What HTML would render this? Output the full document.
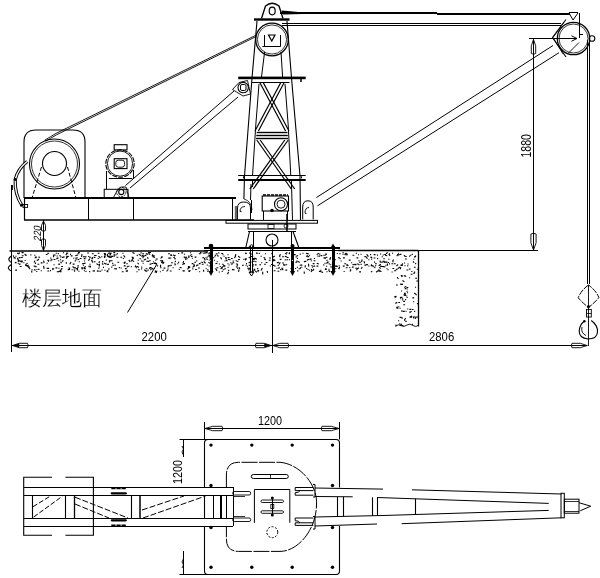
<!DOCTYPE html>
<html><head><meta charset="utf-8"><style>
html,body{margin:0;padding:0;background:#fff;}
svg{display:block;will-change:transform;}
text{font-family:"Liberation Sans",sans-serif;fill:#000;stroke:none;}
</style></head><body>
<svg width="600" height="578" viewBox="0 0 600 578" stroke="#000" fill="none" stroke-linecap="butt">
<line x1="280" y1="13" x2="437" y2="13" stroke-width="2" />
<line x1="437" y1="14" x2="570" y2="14" stroke-width="2" />
<path d="M281.5 10.5 L293 11.5 L303 12.5 L303 14 L283 14.5 Z" stroke-width="0" fill="#000" />
<line x1="282" y1="23.5" x2="561" y2="23.5" stroke-width="1" />
<line x1="282" y1="25.5" x2="561" y2="25.5" stroke-width="1" />
<path d="M261.5 18.5 L265.5 6 Q272 0.5 279 6 L283 18.5" stroke-width="1.3" fill="none" />
<ellipse cx="272.2" cy="11" rx="3" ry="3.8" fill="none" stroke-width="1.2"/>
<rect x="254" y="18.3" width="35.5" height="2.4" rx="0" stroke-width="0" fill="#000" />
<circle cx="272" cy="39.5" r="16.3" stroke-width="1.3" fill="none" />
<circle cx="272" cy="39.5" r="14.6" stroke-width="0.8" fill="none" />
<line x1="264.5" y1="35" x2="264.5" y2="46" stroke-width="1" />
<line x1="280.5" y1="35" x2="280.5" y2="46" stroke-width="1" />
<path d="M268.5 35 L275 35 L271.8 41 Z" stroke-width="1.2" fill="none" />
<path d="M257 21 L252 78 L244.5 176 L243.9 199" stroke-width="1.1" fill="none" />
<path d="M287 21 L291.5 78 L300 176 L300.5 220" stroke-width="1.1" fill="none" />
<line x1="264.6" y1="52" x2="261.5" y2="77" stroke-width="1" />
<line x1="281" y1="52" x2="282.6" y2="77" stroke-width="1" />
<line x1="262.4" y1="46.5" x2="280.8" y2="46.5" stroke-width="1" />
<path d="M259 84 L255.8 125 L252.5 176" stroke-width="1" fill="none" />
<path d="M285 84 L288.2 125 L290.8 176" stroke-width="1" fill="none" />
<line x1="251" y1="184" x2="250.5" y2="200" stroke-width="1" />
<line x1="291.5" y1="184" x2="292.5" y2="220" stroke-width="1" />
<rect x="238.2" y="76.6" width="67.5" height="2.6" rx="0" stroke-width="0" fill="#000" />
<line x1="252" y1="82.5" x2="289.5" y2="82.5" stroke-width="1" />
<line x1="301" y1="79" x2="301" y2="82" stroke-width="1.5" />
<line x1="259.8" y1="82.5" x2="285.6" y2="131" stroke-width="1.2" />
<line x1="263.2" y1="82.5" x2="289.0" y2="131" stroke-width="1.2" />
<line x1="280.8" y1="82.5" x2="255.0" y2="131" stroke-width="1.2" />
<line x1="284.2" y1="82.5" x2="258.4" y2="131" stroke-width="1.2" />
<line x1="256.7" y1="132.5" x2="287.5" y2="132.5" stroke-width="1.4" />
<line x1="256.3" y1="135.5" x2="287.8" y2="135.5" stroke-width="1.4" />
<line x1="256" y1="138.5" x2="288" y2="138.5" stroke-width="1.4" />
<line x1="256.8" y1="140" x2="291.3" y2="189" stroke-width="1.2" />
<line x1="260.2" y1="140" x2="294.7" y2="189" stroke-width="1.2" />
<line x1="284.8" y1="140" x2="249.8" y2="189" stroke-width="1.2" />
<line x1="288.2" y1="140" x2="253.2" y2="189" stroke-width="1.2" />
<line x1="238.2" y1="175.5" x2="305.7" y2="175.5" stroke-width="1" />
<line x1="238.2" y1="180" x2="305.7" y2="180" stroke-width="2" />
<line x1="243.5" y1="176.3" x2="243.5" y2="178.3" stroke-width="1" />
<line x1="301.5" y1="176.3" x2="301.5" y2="178.3" stroke-width="1" />
<line x1="252.5" y1="181" x2="252.5" y2="187" stroke-width="1" />
<line x1="291.5" y1="181" x2="291.5" y2="188" stroke-width="1" />
<path d="M237.5 219.5 L237.5 208 Q237.5 202 243.8 202 Q250.5 202 250.5 208 L250.5 219.5" stroke-width="1" fill="none" />
<path d="M244 199 Q251.5 201 252 210" stroke-width="0.8" fill="none" />
<line x1="251.5" y1="200" x2="251.5" y2="213" stroke-width="1" />
<path d="M240 211.5 Q240 206.5 245 206.5" stroke-width="0.9" fill="none" />
<line x1="240" y1="211.5" x2="241.5" y2="211.5" stroke-width="0.9" />
<path d="M302.7 219.5 L302.7 207 Q302.7 200.8 308 200.8 Q313.2 200.8 313.2 207 L313.2 219.5" stroke-width="1" fill="none" />
<path d="M305 213 Q305 207.5 309 207.5" stroke-width="0.9" fill="none" />
<line x1="305" y1="213.5" x2="306.5" y2="213.5" stroke-width="0.9" />
<line x1="232.5" y1="198" x2="232.5" y2="220" stroke-width="1" />
<line x1="236" y1="206" x2="236" y2="220" stroke-width="2.4" stroke="#666"/>
<rect x="262.2" y="196" width="26.3" height="15" rx="0" stroke-width="1.1" fill="none" />
<line x1="263.5" y1="211" x2="263.5" y2="220" stroke-width="1" />
<line x1="287.5" y1="211" x2="287.5" y2="220" stroke-width="1" />
<line x1="263" y1="195" x2="288" y2="195" stroke-width="1.5" stroke-dasharray="3 1"/>
<circle cx="281" cy="204.2" r="6.5" stroke-width="1.1" fill="none" />
<circle cx="281" cy="204.2" r="4" stroke-width="0.9" fill="none" />
<circle cx="272" cy="210.5" r="1.8" stroke-width="0" fill="#000" />
<rect x="226" y="220.4" width="91.5" height="2.8" rx="0" stroke-width="1" fill="none" />
<rect x="248" y="224" width="48" height="5" rx="0" stroke-width="1" fill="none" />
<line x1="248" y1="231.5" x2="296" y2="231.5" stroke-width="1" />
<rect x="268" y="224.5" width="6" height="4" rx="0" stroke-width="0.8" fill="none" />
<line x1="287" y1="214" x2="287" y2="231" stroke-width="1.5" />
<circle cx="286" cy="226" r="2" stroke-width="0.8" fill="none" />
<line x1="249.5" y1="231.5" x2="245.7" y2="248" stroke-width="1.1" />
<line x1="293" y1="231.5" x2="299" y2="248" stroke-width="1.1" />
<line x1="253.5" y1="231" x2="253.5" y2="248" stroke-width="1" />
<line x1="291.5" y1="231" x2="291.5" y2="248" stroke-width="1" />
<circle cx="272" cy="240" r="6" stroke-width="1.1" fill="none" />
<line x1="272.5" y1="240" x2="272.5" y2="353" stroke-width="1" />
<line x1="24" y1="198" x2="236" y2="198" stroke-width="2" />
<line x1="24" y1="220" x2="254" y2="220" stroke-width="1.6" />
<line x1="24.5" y1="198" x2="24.5" y2="220" stroke-width="1.2" />
<line x1="88.5" y1="198" x2="88.5" y2="220" stroke-width="1" />
<line x1="133.5" y1="198" x2="133.5" y2="220" stroke-width="1" />
<path d="M24 198 L24 142 Q24 130 36 130 L73 130 Q85 130 85 142 L85 198" stroke-width="1.1" fill="none" />
<circle cx="54.5" cy="164" r="25" stroke-width="1.1" fill="none" />
<circle cx="54.5" cy="164" r="23" stroke-width="0.8" fill="none" />
<circle cx="54.5" cy="163.5" r="12" stroke-width="1.1" fill="none" />
<path d="M41.5 167 L32 198" stroke-width="1" fill="none" stroke-dasharray="4 2"/>
<path d="M67.5 167 L76 198" stroke-width="1" fill="none" stroke-dasharray="4 2"/>
<path d="M27.2 161.5 Q18 168.5 15.2 179.5 Q14.5 194 22 205.5" stroke-width="3.2" fill="none" />
<path d="M27.2 161.5 Q18 168.5 15.2 179.5 Q14.5 194 22 205.5" stroke-width="1.3" fill="none" stroke="#fff"/>
<circle cx="15.2" cy="179.5" r="1.4" stroke-width="0" fill="#000" />
<circle cx="21.5" cy="205.3" r="1.5" stroke-width="0" fill="#000" />
<rect x="23" y="204.5" width="4.6" height="2.9" rx="0" stroke-width="0.9" fill="none" />
<path d="M45 140 Q50 137 56 133.4 L256 35.2" stroke-width="0.9" fill="none" />
<path d="M45.5 141.3 Q50.5 138.3 56.5 134.8 L256 36.6" stroke-width="0.9" fill="none" />
<rect x="114.2" y="144.7" width="12.8" height="5.2" rx="0" stroke-width="1.1" fill="none" />
<ellipse cx="120" cy="163.6" rx="14.2" ry="13.7" stroke-width="1.1" stroke-dasharray="5 1.2" fill="none"/>
<circle cx="120" cy="163.6" r="12.6" stroke-width="0.9" fill="none" />
<rect x="114.2" y="158.7" width="12.8" height="9.9" rx="0" stroke-width="1.1" fill="none" />
<rect x="115.8" y="160.2" width="8.8" height="7" rx="2.5" stroke-width="0.9" fill="none" />
<line x1="106.5" y1="171" x2="106.5" y2="189.3" stroke-width="1" />
<line x1="133.5" y1="170" x2="133.5" y2="178.4" stroke-width="1" />
<line x1="108.8" y1="178.5" x2="132.2" y2="178.5" stroke-width="1" />
<rect x="104.2" y="189.3" width="23.8" height="8.2" rx="0" stroke-width="1" fill="none" />
<line x1="125.5" y1="185.5" x2="234" y2="91" stroke-width="1" />
<line x1="130" y1="188" x2="238" y2="97" stroke-width="1" />
<path d="M113.5 197.5 L117.5 190 Q121 185.5 126 187 L129 197.5" stroke-width="0.9" fill="none" />
<circle cx="121.3" cy="192" r="2.6" stroke-width="1.1" fill="none" />
<circle cx="121.3" cy="192" r="4.7" stroke-width="0.9" fill="none" stroke-dasharray="1.8 1"/>
<circle cx="243.2" cy="87.6" r="5.2" stroke-width="1.1" fill="none" />
<rect x="240.5" y="84.5" width="5.5" height="6" rx="1.5" stroke-width="1" fill="none" />
<path d="M232.5 89.5 L239 82.5 L247.5 80.5 L250.5 94 L243 96 Z" stroke-width="0.9" fill="none" />
<line x1="316.5" y1="197.5" x2="553" y2="45.5" stroke-width="1" />
<line x1="317.5" y1="205.8" x2="559" y2="52.7" stroke-width="1" />
<circle cx="573.5" cy="38.5" r="16.2" stroke-width="1.3" fill="none" />
<circle cx="573.5" cy="38.5" r="14.5" stroke-width="0.8" fill="none" />
<path d="M566 19.5 L552.5 37.5 L566 57" stroke-width="1.1" fill="none" />
<path d="M564 22 L553 37.5 L563 54" stroke-width="0.8" fill="none" />
<line x1="569" y1="12.5" x2="578" y2="12.5" stroke-width="1" />
<path d="M569 13 L573 20 L578 13" stroke-width="1" fill="none" />
<line x1="579.5" y1="13" x2="579.5" y2="38" stroke-width="1" />
<circle cx="592" cy="38.5" r="2.8" stroke-width="1.1" fill="none" />
<line x1="579" y1="42.5" x2="568.5" y2="53" stroke-width="0.9" />
<line x1="579.5" y1="30" x2="579.5" y2="36" stroke-width="1" />
<line x1="587.5" y1="40" x2="587.5" y2="284" stroke-width="1" />
<line x1="589.5" y1="40" x2="589.5" y2="284" stroke-width="1" />
<path d="M588.5 285 Q581 290.5 578.2 297.7 Q582 302.5 588.5 307.4 Q595 302.5 598.9 297.5 Q596 290.5 588.5 285 Z" stroke-width="1" fill="none" stroke-dasharray="6 1.2"/>
<circle cx="588.5" cy="306.5" r="1.6" stroke-width="0" fill="#000" />
<rect x="586.5" y="309.4" width="4.8" height="7.6" rx="0" stroke-width="0.9" fill="none" />
<line x1="586.5" y1="313.5" x2="591.3" y2="313.5" stroke-width="0.8" />
<path d="M591.3 320.5 Q598 325.5 597.5 332 Q597 339 588 339 Q579 338 579.2 331 Q579.5 325 584.4 321" stroke-width="1.1" fill="none" />
<path d="M582 327 Q580.5 333 586 335.5" stroke-width="0.9" fill="none" />
<circle cx="584.4" cy="321.3" r="1.2" stroke-width="0" fill="#000" />
<line x1="588.5" y1="285" x2="588.5" y2="346" stroke-width="0.9" />
<line x1="529" y1="38.5" x2="577" y2="38.5" stroke-width="1" />
<path d="M571.5 35.8 L577 38.5 L571.5 41.2" stroke-width="1" fill="none" />
<line x1="579.5" y1="34.5" x2="583" y2="34.5" stroke-width="1" />
<line x1="533.5" y1="38" x2="533.5" y2="250" stroke-width="1" />
<path d="M533.50 39.50 L535.70 45.80 L535.70 53.50 Q533.50 55.00 531.30 53.50 L531.30 45.80 Z" stroke-width="0.9" fill="none" />
<line x1="533.5" y1="53.5" x2="533.5" y2="45.8" stroke-width="0.8" />
<path d="M533.50 250.00 L530.90 242.80 L530.90 234.00 Q533.50 232.50 536.10 234.00 L536.10 242.80 Z" stroke-width="0.9" fill="none" />
<line x1="533.5" y1="234" x2="533.5" y2="242.8" stroke-width="0.8" />
<line x1="418" y1="250.5" x2="538" y2="250.5" stroke-width="1" />
<text x="0" y="0" font-size="15" transform="translate(531,157.5) rotate(-90) scale(0.70,1)">1880</text>
<line x1="9.5" y1="251" x2="208" y2="251" stroke-width="1.5" />
<line x1="204" y1="248" x2="340" y2="248" stroke-width="2" />
<line x1="204" y1="250.5" x2="340" y2="250.5" stroke-width="1" />
<line x1="338" y1="250.5" x2="418" y2="250.5" stroke-width="1.3" />
<line x1="418.5" y1="251" x2="418.5" y2="326.5" stroke-width="1.3" />
<path d="M395.5 326.5 Q398 323.5 401 325.5 Q404 327.5 407 325 Q410 323 413 325.5 Q416 327.5 418 325.5" stroke-width="0.9" fill="none" />
<path d="M11.5 256 Q8 258.5 9 260 Q10 262 11.5 262.5 M11.5 264.5 Q7.5 267 8.5 268.5 Q9.5 270.5 11.5 271" stroke-width="1.1" fill="none" />
<line x1="211.5" y1="246" x2="211.5" y2="272" stroke-width="3" />
<path d="M208.4 271 L211 276 L213.6 271 Z" stroke-width="0" fill="#000" />
<circle cx="211" cy="260.5" r="0.7" stroke-width="0" fill="#fff" />
<line x1="292.5" y1="246" x2="292.5" y2="272" stroke-width="3" />
<path d="M289.9 271 L292.5 276 L295.1 271 Z" stroke-width="0" fill="#000" />
<circle cx="292.5" cy="260.5" r="0.7" stroke-width="0" fill="#fff" />
<line x1="333.5" y1="246" x2="333.5" y2="272" stroke-width="3" />
<path d="M330.4 271 L333 276 L335.6 271 Z" stroke-width="0" fill="#000" />
<circle cx="333" cy="260.5" r="0.7" stroke-width="0" fill="#fff" />
<circle cx="211" cy="246" r="2.3" stroke-width="0" fill="#000" />
<circle cx="292.5" cy="246" r="2" stroke-width="0" fill="#000" />
<path d="M330.5 248 L333 243.5 L335.5 248 Z" stroke-width="0" fill="#000" />
<line x1="250.5" y1="246" x2="250.5" y2="273" stroke-width="1" />
<line x1="252.5" y1="246" x2="252.5" y2="273" stroke-width="1" />
<path d="M249 247 Q251.5 242.5 254 247" stroke-width="1" fill="none" />
<path d="M249 272 L251.5 276 L254 272 Z" stroke-width="1" fill="none" />
<line x1="43.5" y1="220" x2="43.5" y2="250.8" stroke-width="1" />
<path d="M43.50 221.00 L45.50 225.28 L45.50 230.50 Q43.50 232.00 41.50 230.50 L41.50 225.28 Z" stroke-width="0.9" fill="none" />
<line x1="43.5" y1="230.5" x2="43.5" y2="225.275" stroke-width="0.8" />
<path d="M43.50 250.30 L41.50 245.49 L41.50 239.60 Q43.50 238.10 45.50 239.60 L45.50 245.49 Z" stroke-width="0.9" fill="none" />
<line x1="43.5" y1="239.60000000000002" x2="43.5" y2="245.485" stroke-width="0.8" />
<text x="0" y="0" font-size="10.5" transform="translate(40.8,241.5) rotate(-90) scale(0.88,1) skewX(-12)" fill="#444">220</text>
<line x1="11.5" y1="185" x2="11.5" y2="352" stroke-width="1" />
<line x1="12" y1="185" x2="12" y2="190" stroke-width="1.8" />
<line x1="127.5" y1="312.5" x2="157" y2="264" stroke-width="1" />
<text x="22" y="305" font-size="19.5" style="stroke:#fff;stroke-width:0.2">楼层地面</text>
<line x1="12" y1="345.5" x2="587.5" y2="345.5" stroke-width="1" />
<path d="M12.50 345.50 L19.25 343.30 L27.50 343.30 Q29.00 345.50 27.50 347.70 L19.25 347.70 Z" stroke-width="0.9" fill="none" />
<line x1="27.5" y1="345.5" x2="19.25" y2="345.5" stroke-width="0.8" />
<path d="M12.50 345.50 L19.25 343.52 L19.25 347.48 Z" stroke-width="0" fill="#000" />
<path d="M271.00 345.50 L264.25 347.70 L256.00 347.70 Q254.50 345.50 256.00 343.30 L264.25 343.30 Z" stroke-width="0.9" fill="none" />
<line x1="256" y1="345.5" x2="264.25" y2="345.5" stroke-width="0.8" />
<path d="M271.00 345.50 L264.25 347.48 L264.25 343.52 Z" stroke-width="0" fill="#000" />
<path d="M273.00 345.50 L279.75 343.30 L288.00 343.30 Q289.50 345.50 288.00 347.70 L279.75 347.70 Z" stroke-width="0.9" fill="none" />
<line x1="288" y1="345.5" x2="279.75" y2="345.5" stroke-width="0.8" />
<path d="M587.00 345.50 L580.25 347.70 L572.00 347.70 Q570.50 345.50 572.00 343.30 L580.25 343.30 Z" stroke-width="0.9" fill="none" />
<line x1="572" y1="345.5" x2="580.25" y2="345.5" stroke-width="0.8" />
<text x="0" y="0" font-size="13" transform="translate(141.5,341.3) scale(0.875,1)">2200</text>
<text x="0" y="0" font-size="13.5" transform="translate(429,341.3) scale(0.84,1)">2806</text>
<path d="M136.7 255.4h1.1M40.7 262.9h1.8M35.2 262.4l0.3 1.6M47.7 260.8h1.1M60.3 256.9h1.1M375.0 263.8h1.8M385.9 253.4h1.1M123.6 255.3l1.5 2.2M82.0 263.8h1.1M155.3 263.2l1.8 0.3M272.9 260.8h1.8M236.7 261.3h1.8M316.5 266.1h1.8M232.4 262.7h1.1M291.6 258.1h1.1M58.1 260.7h1.1M71.1 262.0l-1.3 2.3M231.9 269.6h1.8M278.6 264.1h1.1M187.3 268.9h1.1M194.1 265.5l-1.5 2.0M392.4 268.5h1.8M160.4 265.5l0.2 1.7M57.7 253.6h1.1M62.4 257.3h1.8M345.9 254.1h1.8M222.9 269.7h1.1M343.0 257.9h1.8M150.1 269.7h1.1M70.7 255.9h1.8M102.1 262.0h1.1M113.4 252.6h1.8M154.1 263.5h1.1M276.8 262.6h1.1M271.3 253.6h1.1M310.9 269.6h1.1M162.9 260.3l-0.7 1.5M38.7 256.6l0.8 1.4M13.1 255.4l0.6 1.4M347.0 264.5l1.4 1.4M152.1 254.9h1.1M392.4 261.6h1.1M45.8 254.5h1.8M114.1 268.7l2.9 0.2M214.8 255.4h1.1M23.3 262.8h1.1M342.8 266.1h1.8M153.1 255.8h1.1M216.5 267.7h1.8M98.2 268.3h1.1M338.7 268.2h1.1M295.6 256.9h1.1M148.8 253.1l1.2 1.5M277.5 271.2h1.8M370.9 271.8h1.1M152.3 256.8h1.8M88.1 256.5h1.1M356.9 268.9h1.1M262.4 268.1l-1.4 2.5M311.8 267.1h1.1M81.2 267.9h1.8M318.9 271.4h1.8M166.3 271.0h1.1M77.9 255.0l-2.6 0.8M68.8 268.6h1.1M264.1 259.3h1.1M63.0 252.8h1.1M261.2 262.8h1.1M178.7 269.5h1.1M93.6 257.4h1.8M104.9 263.9h1.8M173.1 255.1h1.1M148.1 261.4h1.1M358.4 260.7h1.1M204.6 262.9h1.1M20.1 261.1l2.7 0.0M78.8 261.7h1.1M225.6 258.9h1.1M225.2 267.8l-0.4 1.8M118.8 267.6h1.1M227.6 267.3h1.1M182.3 264.4h1.1M208.6 266.0h1.1M216.7 261.8h1.1M280.1 269.6h1.1M112.2 263.4h1.1M333.9 255.2l0.3 1.6M104.9 253.9h1.1M312.5 270.0l-1.6 1.9M67.6 269.7h1.1M96.9 271.1h1.8M199.1 271.8h1.1M74.7 260.9h1.1M142.5 256.3h1.8M288.9 252.9h1.1M181.3 252.9h1.8M251.3 262.5l-2.7 0.1M384.2 254.5h1.8M28.1 267.7h1.8M62.5 260.7h1.1M325.8 257.5l-2.3 0.6M280.6 254.2l-1.2 1.8M40.7 270.8h1.1M319.2 254.1h1.1M38.4 269.3h1.1M142.6 263.3h1.1M115.3 255.0h1.1M104.1 254.6l1.8 0.3M132.2 258.4h1.1M123.8 262.3l0.7 1.4M108.7 252.8h1.1M223.5 256.2h1.1M370.0 254.6h1.1M178.1 262.2h1.1M163.2 262.4h1.1M388.3 259.2h1.1M283.0 264.9h1.8M145.8 253.6l2.5 0.6M110.6 255.7l-2.5 1.3M269.1 258.0h1.8M124.9 261.5l0.3 1.9M380.4 271.5h1.1M106.4 271.3h1.8M149.2 252.5h1.8M194.3 262.3h1.8M205.8 252.6h1.8M47.3 260.3l2.0 0.1M101.9 263.9h1.1M299.7 265.3h1.1M348.8 260.1h1.8M389.2 255.4h1.1M258.7 253.4h1.1M353.7 264.7h1.1M323.3 255.2h1.1M205.7 268.8h1.1M328.7 263.9h1.1M273.9 266.0h1.8M24.9 255.1h1.8M53.1 268.8h1.1M252.8 264.7h1.1M199.9 252.6h1.1M298.8 262.3h1.1M264.9 253.8h1.1M109.3 254.0h1.8M291.6 256.5h1.1M385.7 262.1h1.8M196.0 265.8h1.1M248.7 265.0l1.7 0.8M296.9 258.4h1.1M17.8 253.7h1.8M269.7 266.0h1.1M124.1 262.6h1.1M191.1 254.8h1.1M89.1 271.6h1.1M19.7 261.4h1.1M382.8 261.3h1.8M93.2 270.9h1.8M235.1 255.3h1.1M376.9 255.1h1.1M207.3 269.8h1.1M101.4 270.0h1.1M22.5 252.6h1.1M185.2 258.4l0.9 1.7M334.0 252.5h1.1M333.5 254.8h1.1M285.4 270.1h1.8M155.2 260.2h1.1M238.1 259.5h1.8M118.1 253.4l-1.7 1.0M370.4 257.4h1.8M208.2 256.2h1.8M378.3 269.7h1.1M254.0 270.3h1.1M222.8 266.5l-1.5 1.6M300.5 265.1h1.8M31.7 270.6l0.2 2.0M126.7 266.9h1.1M112.4 265.3h1.8M225.9 260.2l1.6 0.9M359.1 262.2h1.8M359.2 271.9h1.8M66.3 256.3l0.8 1.4M104.3 257.5h1.1M351.9 267.1h1.8M171.1 262.7h1.8M142.2 253.7h1.8M382.7 255.0h1.1M253.5 269.3h1.8M116.5 257.3h1.8M183.3 271.1h1.1M346.4 252.9l-1.7 2.2M193.8 263.9l1.0 2.7M328.4 269.2h1.1M107.9 254.6l-0.2 2.5M372.6 266.6h1.1M305.2 261.4h1.1M28.1 267.8h1.8M364.4 265.1h1.8M61.9 257.4h1.1M279.9 254.7l-0.2 2.4M161.2 256.9h1.1M17.0 258.4h1.1M379.3 265.1h1.1M194.6 257.1h1.8M380.0 266.2h1.8M21.3 262.2h1.1M173.4 257.5h1.1M366.4 256.9l1.0 1.9M273.7 256.4h1.1M295.3 262.3h1.8M383.5 258.6h1.1M101.2 256.8h1.1M125.7 271.1h1.1M84.6 256.9h1.8M267.1 271.0l0.6 1.7M385.1 255.3l2.1 0.4M356.1 269.7h1.1M394.1 270.7h1.8M83.9 270.7h1.1M25.2 265.5h1.8M155.8 259.0l1.9 0.0M147.3 271.1l-1.8 0.2M149.2 268.5h1.1M178.2 253.5h1.1M155.4 270.4l1.2 2.6M24.6 260.5h1.1M305.9 253.3l2.8 0.6M111.2 267.1h1.1M142.5 257.8h1.1M248.7 257.6h1.1M133.9 257.9l-2.1 2.0M255.2 270.9l1.6 1.5M378.5 271.1h1.8M108.9 260.9h1.1M367.5 256.1h1.1M295.1 268.5h1.1M245.0 258.9h1.8M151.2 267.8l2.1 1.5M107.5 253.8l-0.3 2.0M387.5 269.7h1.1M114.2 254.1l0.0 2.6M183.7 257.1h1.8M250.0 265.6h1.1M336.5 265.5l-1.7 0.9M229.5 259.8h1.1M89.1 257.3h1.8M71.6 269.7h1.1M137.7 260.2h1.1M206.8 257.0h1.1M262.6 271.8l0.2 2.7M334.1 270.3l1.0 1.3M85.4 271.5h1.1M368.3 259.8h1.1M184.6 257.6h1.1M374.3 254.6h1.1M249.8 256.7h1.8M67.0 256.5h1.8M242.0 265.2h1.8M17.3 258.9h1.1M83.7 258.6h1.8M316.8 263.2l2.0 0.7M223.2 265.0l2.2 1.3M169.5 258.0h1.8M377.1 258.6h1.1M149.4 260.6h1.1M393.7 259.6l-1.2 1.4M15.2 270.1h1.8M326.4 260.4h1.1M189.1 255.7l-0.4 2.4M360.5 254.2h1.1M154.7 262.3l1.4 1.8M366.5 254.6h1.1M320.4 271.4l2.7 1.1M385.7 261.9l-2.0 0.5M358.4 264.6h1.1M74.2 267.8h1.8M167.5 269.0h1.1M82.9 256.8h1.8M210.8 260.0l1.8 1.8M355.8 253.3h1.1M302.4 253.2h1.1M58.0 264.2h1.1M252.5 258.5h1.8M235.6 260.8h1.1M183.7 261.0l-0.8 2.1M102.9 267.4h1.1M188.1 256.0h1.1M53.9 255.0h1.8M48.0 261.1h1.1M28.6 264.9l-1.8 2.0M208.4 253.6h1.1M157.3 271.0l-2.7 1.3M292.7 268.4l-2.2 0.1M378.4 270.4l-2.3 1.8M38.0 259.3h1.1M73.6 270.0h1.8M324.6 255.3h1.1M364.4 256.6h1.8M206.3 258.7l1.5 0.9M370.7 265.8h1.1M77.5 267.8l-0.2 2.4M150.4 269.5h1.1M234.6 269.7l-2.4 0.1M163.6 268.1h1.8M391.4 263.8h1.8M305.1 261.1l-1.1 1.1M326.2 257.4h1.1M388.9 263.9h1.1M132.4 252.5l2.2 1.1M178.1 262.5h1.1M63.4 256.9h1.1M21.5 252.6h1.8M53.6 259.5h1.8M235.9 264.0h1.8M251.3 261.8l-1.8 0.4M70.0 254.4h1.1M345.8 267.8h1.8M113.9 252.7h1.1M227.8 259.3h1.1M182.5 270.8h1.1M107.9 270.1l-0.2 2.1M103.8 253.6h1.1M17.7 263.2h1.1M67.3 256.4h1.1M206.7 265.0h1.1M79.7 258.5h1.8M31.5 269.8h1.1M286.3 252.6h1.1M297.7 261.6h1.1M185.9 256.9l1.2 1.0M141.2 267.1h1.1M335.9 266.4h1.8M224.5 261.0h1.1M212.9 257.7h1.1M381.7 256.7h1.1M18.8 257.6h1.8M297.2 270.9h1.1M137.9 269.7h1.8M104.4 270.2h1.1M277.7 265.5h1.1M192.3 268.9h1.1M340.6 261.0h1.1M230.9 258.5h1.8M250.8 254.0h1.1M68.2 253.0l-2.0 0.4M67.2 253.1l-1.4 2.0M279.3 266.9l-0.6 2.0M325.3 268.5h1.1M38.2 269.4h1.1M373.7 254.6h1.8M55.8 253.2h1.1M323.2 264.9h1.1M254.2 258.1l2.5 0.8M91.3 258.7h1.8M21.0 257.5h1.8M286.4 259.7h1.8M381.2 262.3h1.1M249.2 253.1h1.8M179.7 267.6h1.8M282.2 263.0h1.8M342.4 254.3h1.1M78.1 252.5h1.8M304.2 271.6l0.1 2.2M317.4 256.1h1.1M145.6 268.7h1.8M373.6 258.0h1.8M280.2 262.2l-0.7 1.5M314.0 266.1h1.1M252.9 259.4h1.8M163.7 269.9l-1.4 0.5M91.7 257.6h1.1M204.5 259.9h1.1M102.2 261.5h1.1M301.2 267.2h1.1M146.1 258.9l-2.2 1.2M296.4 255.8h1.8M308.5 263.8l0.3 2.8M103.9 256.2h1.8M281.6 269.0l1.7 0.9M137.7 262.7l0.9 1.5M385.5 266.7l-1.6 0.2M159.8 271.7h1.1M293.1 261.0l-0.7 1.5M91.9 260.1l0.8 2.6M277.9 262.3h1.1M190.0 255.3h1.1M167.6 266.9h1.1M177.3 263.7h1.1M173.9 257.0h1.1M349.2 267.6h1.1M338.6 265.8h1.1M186.4 258.6h1.1M50.4 260.7h1.1M285.4 264.8h1.8M174.8 261.4h1.1M169.4 265.7h1.1M82.9 265.3h1.1M161.5 262.1h1.1M27.6 263.1l-2.3 1.8M211.3 254.5h1.1M219.7 266.5h1.1M257.2 268.7h1.1M169.8 271.0h1.8M274.4 260.2h1.1M59.8 271.7h1.8M34.6 257.8h1.8M18.1 260.7h1.8M279.7 259.4h1.8M98.7 267.0h1.1M214.3 256.8h1.1M162.7 256.6l-2.1 1.8M255.3 261.6h1.1M99.3 271.3h1.8M257.0 268.5h1.1M191.8 258.2h1.1M60.8 268.8h1.8M338.0 257.7h1.8M109.9 260.8l2.6 0.0M120.4 257.3h1.8M196.2 260.9h1.1M264.8 259.6h1.1M339.4 253.6h1.1M359.0 267.8l-2.1 1.2M18.7 252.7h1.1M263.6 257.4l1.7 0.8M309.5 259.3l-2.6 0.8M77.1 269.9h1.1M311.4 265.5h1.1M314.0 268.9l-1.3 1.9M296.4 261.1h1.1M225.0 257.7h1.8M66.2 262.1l0.2 1.7M200.7 262.2h1.1M342.6 252.6h1.1M191.8 263.5h1.1M334.1 259.8h1.8M380.0 254.0h1.1M256.0 253.1h1.1M273.7 270.7h1.8M388.0 262.5h1.1M355.9 253.2h1.1M251.9 259.1h1.1M152.9 261.8h1.1M307.4 256.6h1.8M174.4 263.3h1.1M124.9 268.6h1.8M205.4 257.8h1.1M385.4 265.3h1.1M139.4 258.7h1.8M237.0 264.9h1.1M28.3 266.6h1.1M221.3 253.5h1.8M15.4 256.2h1.1M245.5 265.3h1.1M360.6 264.4h1.1M252.4 266.1h1.1M273.1 256.6h1.1M187.9 267.4l1.3 0.8M308.9 270.3h1.1M153.9 268.5h1.1M227.7 257.5h1.8M174.1 258.7h1.8M258.2 270.7l-0.3 1.5M58.4 268.3h1.1M363.9 261.2l0.8 2.2M371.2 271.6h1.1M170.5 254.5h1.1M94.1 255.5l2.5 0.0M59.5 271.3l-1.6 0.7M19.8 266.5h1.8M293.2 256.2l-1.9 1.7M339.8 266.7l-1.0 2.4M188.9 270.7h1.8M381.4 266.5l2.5 0.1M325.2 254.1h1.8M291.6 255.7h1.1M198.8 253.7h1.8M232.6 261.1h1.1M68.4 268.0h1.8M259.3 264.8h1.8M160.4 267.8h1.1M312.7 263.6h1.8M36.2 271.5h1.1M329.1 259.0h1.1M386.4 268.7h1.1M130.9 260.9h1.1M156.9 265.9h1.1M355.3 268.2h1.8M13.6 257.6h1.8M237.1 268.4h1.1M29.2 268.7h1.1M344.3 263.7h1.8M338.2 268.2h1.1M362.1 259.3l-0.5 2.7M89.6 267.1h1.1M102.4 264.3h1.1M190.8 256.5h1.8M299.9 267.9h1.1M46.5 268.2h1.1M102.0 263.8h1.1M351.1 262.7h1.1M238.1 256.2l2.2 1.4M151.6 263.5h1.8M210.6 255.4l-2.1 0.0M53.5 264.8h1.1M72.7 264.1h1.8M211.4 252.9l-2.8 0.1M198.8 263.6h1.8M310.7 260.8h1.1M306.1 268.5h1.1M110.0 253.2h1.8M82.0 254.1l-0.5 2.8M188.1 271.0h1.1M37.5 264.2h1.8M58.8 271.2h1.8M228.6 265.0h1.1M268.8 260.2h1.8M74.0 271.3h1.1M97.7 253.3h1.8M147.5 270.1h1.1M332.8 253.4h1.1M284.1 265.1h1.1M34.3 255.3h1.1M371.8 265.7h1.8M238.9 267.3l1.0 1.6M60.4 261.9l1.3 1.2M271.9 252.7h1.1M87.5 253.2h1.1M97.3 270.7h1.1M352.5 255.2h1.8M50.0 270.6h1.1M253.0 261.3h1.8M327.4 261.8h1.1M67.5 256.8l-1.4 1.8M68.3 269.5h1.8M170.3 255.5h1.8M333.7 259.0l0.1 2.0M358.0 254.7h1.1M34.7 270.0h1.1M93.7 261.8h1.8M111.5 256.4h1.8M391.6 272.0h1.1M50.3 258.1h1.1M35.0 266.7h1.8M386.8 252.8h1.1M143.2 255.2l-2.0 1.2M84.0 261.0h1.1M96.4 263.6l2.2 1.4M284.8 256.3l2.3 0.7M202.3 257.8h1.8M246.9 266.3h1.1M235.7 256.4l-1.4 1.6M288.7 253.6h1.1M141.1 268.9h1.1M201.3 252.8h1.1M195.1 269.5h1.8M84.1 268.7h1.8M75.5 259.7h1.1M14.8 262.6h1.8M210.0 254.9h1.1M324.9 269.4h1.8M284.7 259.9h1.1M36.4 269.5h1.1M202.0 262.5h1.1M218.3 252.9h1.1M98.5 256.1l1.9 1.9M24.5 254.4h1.1M87.5 252.8h1.1M233.2 262.7h1.1M52.3 269.5h1.1M30.3 254.9h1.1M204.3 258.0l0.5 1.6M239.1 269.3l-0.6 2.6M75.8 268.6h1.1M161.5 260.7h1.1M213.8 260.2h1.1M309.8 259.1h1.8M141.0 261.0h1.1M320.3 270.3h1.1M336.8 253.5h1.1M378.9 270.7h1.8M174.3 264.8h1.8M215.8 253.9h1.8M205.8 252.9l-2.7 0.3M370.9 264.8h1.1M350.8 269.8l-0.8 1.7M272.2 257.8h1.1M366.1 264.6h1.8M211.8 261.0h1.1M122.8 258.5h1.1M59.0 264.1h1.1M209.3 257.7h1.1M216.9 255.4l1.8 0.8M168.3 258.1h1.8M46.6 263.2h1.1M246.0 263.6h1.1M89.9 266.4h1.1M222.3 264.4h1.1M131.6 257.2h1.8M208.8 260.0h1.1M17.5 259.4h1.1M104.1 263.4h1.1M121.8 271.8h1.8M308.0 255.6l-2.0 0.8M36.7 260.1h1.8M293.9 254.6h1.8M379.5 266.9l1.0 1.8M271.0 264.5h1.1M326.7 262.6h1.1M296.9 267.3h1.1M312.8 266.3h1.1M61.6 269.5l-1.8 1.6M203.2 271.3h1.1M172.6 267.8h1.1M245.0 259.9h1.1M187.9 266.6h1.8M162.2 263.3h1.8M136.0 267.8h1.1M203.8 261.2l1.0 1.4M232.8 263.8l-1.9 0.5M335.2 268.8h1.1M91.0 260.8h1.1M17.1 253.4h1.1M203.0 270.4h1.1M218.7 272.0h1.1M210.6 265.9h1.8M149.6 264.1h1.8M375.1 265.7h1.1M50.8 259.8h1.8M227.4 263.7h1.1M381.4 262.0h1.8M251.6 271.9h1.8M215.5 268.4l1.6 2.5M328.5 262.5l-2.4 0.8M326.5 271.8h1.1M173.8 255.5h1.8M208.4 262.3l2.1 1.3M243.4 259.4h1.1M256.1 253.3h1.8M313.9 258.5h1.1M14.5 258.4h1.1M236.9 265.5l0.0 2.3M114.6 265.1h1.1M393.9 263.7h1.8M59.4 255.6h1.1M53.7 254.5l-0.2 2.7M247.2 268.2l2.7 0.1M136.3 266.5h1.8M77.7 257.7l-2.3 0.7M146.3 261.3h1.8M33.9 269.9h1.1M379.6 261.1h1.1M108.2 253.4h1.1M339.5 258.6h1.1M324.7 258.4h1.1M379.7 262.2h1.1M105.8 260.1h1.1M97.6 258.5h1.1M198.0 268.0h1.8M79.3 259.5l-1.9 0.2M227.5 254.7h1.1M160.3 260.4l2.5 1.0M147.2 257.3l1.2 1.4M26.3 265.5h1.8M72.6 266.3l1.8 2.1M61.8 261.1h1.1M320.5 255.6h1.8M289.0 259.8h1.1M92.5 271.0h1.1M99.8 261.3l-1.1 1.5M356.7 264.0h1.8M107.1 264.4h1.8M346.3 254.9h1.1M220.3 257.8h1.1M160.0 265.3h1.1M131.7 260.1l2.4 1.5M135.6 265.4l-0.4 2.0M204.1 258.3l1.0 1.5M61.2 266.5h1.8M167.1 270.2h1.1M350.2 269.3l1.0 1.2M272.6 265.4h1.8M170.6 265.4h1.1M107.9 269.0h1.8M253.2 256.0l-2.5 0.7M285.2 253.3l1.6 0.9M128.8 259.9l1.4 2.0M81.6 268.9h1.1M286.8 257.5h1.8M274.4 259.3l-2.3 1.3M122.4 253.3h1.1M245.0 253.4h1.8M55.5 267.9h1.8M362.3 267.1l-1.2 1.7M298.6 268.7h1.8M47.4 271.0h1.8M368.3 266.0h1.1M330.1 264.7h1.1M33.7 266.1h1.8M208.5 270.6l-1.1 1.1M281.4 268.2h1.8M221.7 271.4h1.1M220.8 257.4l0.9 1.9M89.9 258.6l-1.5 2.0M103.9 257.2h1.1M183.0 270.7h1.8M127.4 269.8l-0.4 2.0M324.5 263.2h1.1M77.6 265.5h1.1M189.2 267.4h1.1M56.7 258.1h1.8M91.9 253.7h1.8M88.3 266.2h1.8M56.2 258.8h1.1M151.7 255.8l3.0 0.1M299.7 254.1h1.1M387.4 263.5l0.1 2.2M85.5 263.1l-2.4 0.6M252.8 270.7h1.1M109.0 257.3l2.7 0.2M333.7 258.3l-1.2 2.5M367.0 255.8h1.1M330.2 267.0h1.8M83.5 268.6h1.8M153.8 263.2h1.8M330.6 257.2l-0.5 2.4M326.1 266.3h1.1M374.0 262.1h1.1M73.2 258.3h1.1M43.6 265.9l0.5 2.9M47.3 253.3h1.8M85.9 266.6l-2.4 1.3M313.6 260.8h1.8M265.7 262.5h1.8M142.4 261.1h1.1M328.6 270.1l1.3 1.7M228.2 259.3l1.9 0.5M188.9 271.4h1.1M343.6 271.5h1.1M249.8 268.3l-1.3 2.1M126.5 263.6h1.1M196.6 265.1h1.8M144.2 269.8l2.1 1.4M183.9 254.2h1.1M155.1 263.8h1.8M215.5 263.5h1.8M56.6 256.0h1.1M222.4 254.7h1.1M109.8 254.4h1.1M109.1 262.0h1.1M99.5 263.7l-0.1 2.4M43.6 260.5l0.5 2.7M223.3 266.4h1.1M56.8 271.8h1.1M52.0 268.7h1.8M78.4 271.2h1.1M309.0 255.2h1.1M35.0 257.1h1.8M18.8 264.1h1.8M127.6 266.3h1.8M352.5 264.6h1.1M228.1 270.4h1.1M77.2 267.0h1.8M304.7 265.8h1.1M59.9 259.8h1.1M375.1 266.6l-0.5 1.6M222.7 268.2l-2.4 0.6M110.3 256.3h1.8M333.2 263.8l1.7 0.1M318.9 256.1h1.1M123.8 265.9h1.8M68.1 269.6h1.1M276.4 268.3h1.1M18.3 259.2l-0.0 2.8M318.8 253.2l-2.1 1.4M163.0 261.8l-1.8 1.0M346.5 264.4l0.9 1.6M354.5 264.0l1.8 1.0M191.7 263.8h1.8M148.1 252.6h1.1M140.5 252.9h1.1M389.8 253.4l-1.0 1.6M117.4 262.3h1.8M230.3 262.8h1.1M392.0 253.2h1.1M307.5 269.5h1.1M254.8 264.9h1.8M120.6 268.0h1.1M371.6 265.8h1.8M304.6 266.9h1.1M255.7 259.3h1.1M168.1 253.7h1.8M136.5 271.8h1.1M153.3 257.2h1.8M146.4 255.1l-2.0 0.9M183.2 263.6h1.8M77.5 253.8h1.8M130.8 266.7h1.1M371.1 259.1h1.1M235.8 254.1l-0.7 2.9M149.4 267.6h1.8M344.7 253.8h1.1M356.5 257.9h1.8M21.8 255.7h1.8M282.1 256.8h1.8M89.5 264.3h1.1M260.6 256.3h1.1M380.9 264.2l-2.3 1.6M143.3 255.2l-0.3 2.8M257.4 270.5h1.8M137.8 267.1h1.1M167.8 265.7h1.8M34.9 260.6l-0.8 1.8M201.8 264.2h1.8M190.0 252.8h1.1M228.5 271.8l-0.9 2.4M138.7 254.3l2.4 1.1M47.3 268.4h1.8M218.8 264.0h1.1M264.1 264.2h1.8M411.3 271.5h1.1M411.8 309.5h1.8M412.0 324.3h1.1M401.1 291.0h1.1M397.9 253.2h1.1M409.4 309.4h1.8M416.8 269.3h1.1M397.0 254.6l2.2 0.4M407.2 265.9h1.1M403.0 263.5l-2.0 2.1M398.6 254.6h1.1M400.3 324.7h1.1M409.0 277.8h1.1M405.1 276.3h1.1M397.4 306.4l-0.9 1.9M414.0 256.9h1.1M404.0 320.1h1.1M408.8 269.0h1.8M400.8 284.4h1.8M399.5 308.3h1.1M401.6 325.6h1.8M407.5 264.0h1.1M414.1 272.1h1.1M413.1 273.3h1.8M405.7 318.0l-1.3 2.0M405.0 295.1h1.1M399.6 317.4h1.8M412.2 316.0l-2.7 1.2M401.5 254.3l-1.5 0.1M415.1 263.6h1.1M397.1 264.9h1.1M397.0 277.5h1.1M410.8 317.3h1.1M395.7 269.7h1.1M410.2 255.3h1.1M400.1 284.1l3.0 0.2M402.0 317.1l0.1 1.7M404.4 265.7h1.1M398.3 306.8h1.1M397.5 278.5h1.1M415.2 278.2h1.8M416.3 317.4h1.1M401.0 265.5h1.8M396.5 255.7h1.1M404.0 293.4h1.8M395.2 303.1h1.1M407.0 292.8h1.1M416.6 316.7h1.1M403.8 275.9h1.8M416.4 281.0h1.8M404.0 263.0h1.1M395.1 297.2h1.1M400.6 297.4h1.8M400.3 267.1l-2.4 1.3M415.0 256.1h1.1M402.1 300.0h1.1M401.9 323.9l-1.9 2.0M406.2 296.0h1.1M400.2 298.8h1.1M403.3 304.8h1.8M406.6 297.5h1.1M402.1 298.7h1.1M399.9 297.5h1.8M415.0 287.3h1.1M406.5 287.5h1.8M398.1 320.7h1.1M406.5 291.3h1.1M400.3 265.2h1.1M405.1 299.6h1.1M414.7 316.3l1.0 2.6M413.0 261.5l1.2 1.2M402.8 311.5h1.1M405.0 259.0h1.8M416.9 303.6h1.8M405.5 311.2h1.1M398.3 302.5h1.8M406.5 270.0h1.8M402.5 280.5l1.9 1.4M396.3 265.6h1.1M401.0 276.3h1.8M413.4 259.2h1.1M413.9 267.3h1.8M412.4 297.9h1.8M396.0 285.0h1.8M410.7 274.2h1.8M409.3 312.1h1.8M403.5 295.0h1.1M399.2 323.9h1.1M403.2 301.4h1.8M396.6 308.1h1.8M406.6 289.0h1.1M411.7 254.4h1.1M405.2 286.5h1.1M404.1 287.3h1.1M404.7 288.6h1.1M413.1 301.8h1.1M403.8 255.5h1.1M407.2 309.0h1.1M397.6 268.7l-1.4 0.9M396.9 307.9h1.1M396.2 302.6h1.1M405.6 256.5h1.1M404.2 295.4h1.1M413.0 316.6l1.1 2.0M395.1 325.2h1.8M400.8 275.5h1.8M413.9 293.3h1.1M404.2 256.3h1.8M414.1 311.4h1.1M400.7 267.3l-0.2 2.0M405.2 288.4h1.1M403.0 311.4h1.8M415.2 293.4l1.3 1.9M404.0 294.0h1.8M401.0 311.0h1.8M410.6 311.5h1.1M405.0 321.2h1.8M414.3 256.7h1.8M409.1 256.1h1.1M396.6 296.3l-2.3 0.6" stroke-width="1.1" fill="none"/>
<path d="M52 477.3 L23.7 477.3 L23.7 535.3 L52 535.3" stroke-width="1.1" fill="none" />
<path d="M65.4 477.3 L93.4 477.3 L93.4 535.3 L65.4 535.3" stroke-width="1.1" fill="none" />
<line x1="24" y1="487.5" x2="233" y2="487.5" stroke-width="1.1" />
<line x1="24" y1="495.5" x2="233" y2="495.5" stroke-width="1.1" />
<line x1="24" y1="518.5" x2="233" y2="518.5" stroke-width="1.1" />
<line x1="24" y1="526.5" x2="233" y2="526.5" stroke-width="1.1" />
<line x1="32.5" y1="495.5" x2="32.5" y2="518" stroke-width="1.1" />
<line x1="65.5" y1="495.5" x2="65.5" y2="518" stroke-width="1.1" />
<line x1="74.5" y1="495.5" x2="74.5" y2="518" stroke-width="1.3" />
<line x1="131.5" y1="495.5" x2="131.5" y2="518" stroke-width="1.1" />
<line x1="140" y1="495.5" x2="140" y2="518" stroke-width="1.5" />
<path d="M33 506.7 L50 496.3" stroke-width="1" fill="none" stroke-dasharray="5 2"/>
<path d="M33.7 517 L62.3 496.3" stroke-width="1" fill="none" stroke-dasharray="5 2"/>
<path d="M75 497.2 L128 518" stroke-width="1" fill="none" stroke-dasharray="6 2"/>
<path d="M75 504 L109 518" stroke-width="1" fill="none" stroke-dasharray="6 2"/>
<path d="M142 510 L184 496" stroke-width="1" fill="none" stroke-dasharray="6 2"/>
<path d="M143 518 L205.6 496" stroke-width="1" fill="none" stroke-dasharray="6 2"/>
<path d="M111.3 488.6 h15.1" stroke-width="1.5" fill="none" stroke-dasharray="4.3 0.8"/>
<path d="M111.8 493.4 h14.6" stroke-width="2.2" fill="none" stroke-dasharray="4.2 0.7" stroke-linecap="round"/>
<path d="M111.8 520.3 h14.6" stroke-width="2.2" fill="none" stroke-dasharray="4.2 0.7" stroke-linecap="round"/>
<path d="M111.3 525.2 h15.1" stroke-width="1.5" fill="none" stroke-dasharray="4.3 0.8"/>
<line x1="213.5" y1="495.5" x2="213.5" y2="518" stroke-width="1" />
<line x1="221" y1="495.5" x2="221" y2="518" stroke-width="2" />
<line x1="226.5" y1="495.5" x2="226.5" y2="518" stroke-width="1" />
<line x1="233.5" y1="487" x2="233.5" y2="526" stroke-width="1" />
<path d="M339.5 487.5 L339.5 443 Q339.5 439.5 336 439.5 L208 439.5 Q204.5 439.5 204.5 443 L204.5 487.5 M204.5 526 L204.5 571 Q204.5 574.5 208 574.5 L336 574.5 Q339.5 574.5 339.5 571 L339.5 526" stroke-width="1.1" fill="none" />
<line x1="204.5" y1="495.5" x2="204.5" y2="518" stroke-width="1.1" />
<line x1="204.5" y1="428.5" x2="340" y2="428.5" stroke-width="1" />
<line x1="204.5" y1="422" x2="204.5" y2="439.5" stroke-width="1" />
<line x1="339.5" y1="422" x2="339.5" y2="439.5" stroke-width="1" />
<path d="M205.00 428.50 L212.65 426.30 L222.00 426.30 Q223.50 428.50 222.00 430.70 L212.65 430.70 Z" stroke-width="0.9" fill="none" />
<line x1="222" y1="428.5" x2="212.65" y2="428.5" stroke-width="0.8" />
<path d="M339.00 428.50 L331.35 430.70 L322.00 430.70 Q320.50 428.50 322.00 426.30 L331.35 426.30 Z" stroke-width="0.9" fill="none" />
<line x1="322" y1="428.5" x2="331.35" y2="428.5" stroke-width="0.8" />
<text x="0" y="0" font-size="13.2" transform="translate(258,424.7) scale(0.82,1)">1200</text>
<line x1="183.5" y1="439.7" x2="183.5" y2="457" stroke-width="1" />
<line x1="183.5" y1="551" x2="183.5" y2="574.6" stroke-width="1" />
<line x1="179.5" y1="439.5" x2="212" y2="439.5" stroke-width="1" />
<line x1="179.5" y1="574.5" x2="212" y2="574.5" stroke-width="1" />
<path d="M182 446 Q185 449 182 452 L183.4 455" stroke-width="0.9" fill="none" />
<path d="M182 568 Q185 565 182 562 L183.4 559" stroke-width="0.9" fill="none" />
<text x="0" y="0" font-size="13.5" transform="translate(182.3,484) rotate(-90) scale(0.80,1)">1200</text>
<circle cx="211" cy="445.1" r="1.7" stroke-width="0" fill="#000" />
<circle cx="211" cy="567.3" r="1.7" stroke-width="0" fill="#000" />
<circle cx="251.8" cy="445.1" r="1.7" stroke-width="0" fill="#000" />
<circle cx="251.8" cy="567.3" r="1.7" stroke-width="0" fill="#000" />
<circle cx="292.2" cy="445.1" r="1.7" stroke-width="0" fill="#000" />
<circle cx="292.2" cy="567.3" r="1.7" stroke-width="0" fill="#000" />
<circle cx="332.5" cy="445.1" r="1.7" stroke-width="0" fill="#000" />
<circle cx="332.5" cy="567.3" r="1.7" stroke-width="0" fill="#000" />
<circle cx="211" cy="485.5" r="1.7" stroke-width="0" fill="#000" />
<circle cx="211" cy="527.5" r="1.7" stroke-width="0" fill="#000" />
<circle cx="332.5" cy="485.5" r="1.7" stroke-width="0" fill="#000" />
<circle cx="332.5" cy="527.5" r="1.7" stroke-width="0" fill="#000" />
<path d="M226.4 487 L226.4 475 Q226.4 462.3 238.5 462.3 L280 462.3 C300 464 318 485 316.5 505 C316 530 298 551.4 280 551.4 L238.5 551.4 Q226.4 551.4 226.4 539 L226.4 526" stroke-width="1" fill="none" stroke-dasharray="16 1.5"/>
<rect x="251.3" y="474.5" width="37" height="4" rx="2" stroke-width="1" fill="none" />
<line x1="270.5" y1="474.5" x2="270.5" y2="478.5" stroke-width="0.8" />
<path d="M254.4 522.8 L254.4 489.5 L289.8 489.5 L289.8 522.8" stroke-width="1" fill="none" />
<rect x="261" y="500" width="22.5" height="2.5" rx="1.2" stroke-width="0.9" fill="none" />
<rect x="261" y="510.8" width="22.5" height="2.5" rx="1.2" stroke-width="0.9" fill="none" />
<line x1="272.5" y1="497" x2="272.5" y2="516" stroke-width="1.1" />
<circle cx="272.3" cy="498" r="1.5" stroke-width="0" fill="#000" />
<circle cx="272.3" cy="515" r="1.5" stroke-width="0" fill="#000" />
<rect x="270.8" y="504.5" width="3" height="4" rx="0" stroke-width="0.8" fill="none" />
<circle cx="272.3" cy="532.2" r="5.5" stroke-width="1" fill="none" stroke-dasharray="2 1.5"/>
<rect x="232.7" y="491.5" width="18" height="3.5" rx="1.5" stroke-width="0.9" fill="none" />
<rect x="232.7" y="518" width="18" height="3.5" rx="1.5" stroke-width="0.9" fill="none" />
<line x1="233" y1="496.5" x2="245" y2="496.5" stroke-width="0.8" />
<line x1="233" y1="516.5" x2="245" y2="516.5" stroke-width="0.8" />
<path d="M313.4 487.5 L295.2 487.5 L295.2 490.6 L313.4 490.6 M300 490.6 Q299 492.7 295.2 492.7 L295.2 495.2 L313.4 495.2" stroke-width="1" fill="none" />
<path d="M313.4 525.4 L295.2 525.4 L295.2 522.8 L313.4 522.8 M300 522.8 Q299 520.7 295.2 520.7 L295.2 518 L313.4 518" stroke-width="1" fill="none" />
<path d="M313 484.5 L315 484.5 L315 497 L313 497 M313 516.5 L315 516.5 L315 529 L313 529" stroke-width="1" fill="none" />
<line x1="315" y1="488" x2="383" y2="489.1" stroke-width="1" />
<line x1="412" y1="489.8" x2="561.5" y2="494" stroke-width="1" />
<line x1="315" y1="496.5" x2="352.7" y2="496.8" stroke-width="1" />
<line x1="377" y1="497.5" x2="548.7" y2="503.4" stroke-width="1" />
<line x1="315" y1="517" x2="383" y2="515.5" stroke-width="1" />
<line x1="383" y1="515.5" x2="548.7" y2="510.4" stroke-width="1" />
<line x1="315" y1="526" x2="377" y2="524" stroke-width="1" />
<line x1="401.7" y1="523.7" x2="561.5" y2="517.8" stroke-width="1" />
<line x1="337.5" y1="496.8" x2="337.5" y2="516.7" stroke-width="1.1" />
<line x1="343.5" y1="496.8" x2="343.5" y2="516.7" stroke-width="1.1" />
<line x1="372.5" y1="497.3" x2="372.5" y2="516" stroke-width="1.1" />
<line x1="377.5" y1="497.3" x2="377.5" y2="516" stroke-width="1.1" />
<line x1="415.5" y1="498.7" x2="415.5" y2="514.3" stroke-width="1.1" />
<rect x="561" y="493.3" width="3.3" height="24.5" rx="0" stroke-width="1" fill="none" />
<rect x="564.3" y="499.2" width="14.7" height="14" rx="0" stroke-width="1" fill="none" />
<line x1="564.3" y1="501.5" x2="579" y2="501.5" stroke-width="0.8" />
<line x1="564.3" y1="511.5" x2="579" y2="511.5" stroke-width="0.8" />
<path d="M579 502.7 L590.7 506.2 L580.2 510.8" stroke-width="1" fill="none" />
</svg>
</body></html>
